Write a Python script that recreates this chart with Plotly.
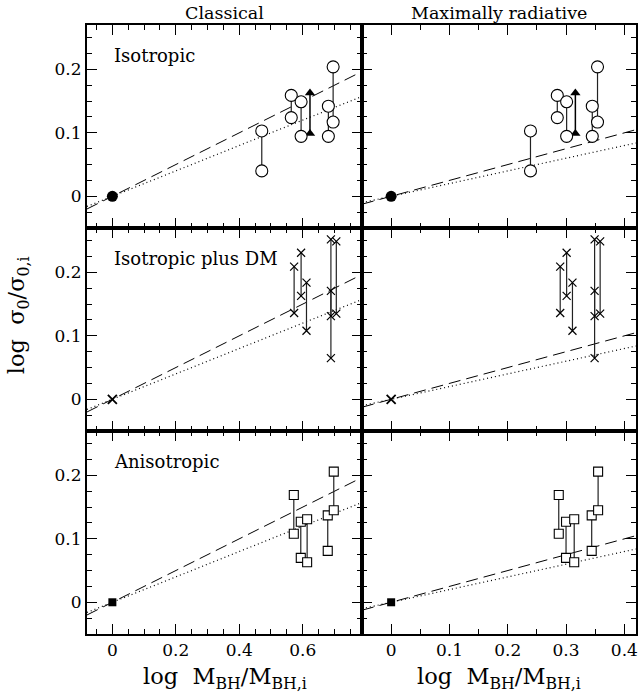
import plotly.graph_objects as go
from plotly.subplots import make_subplots

# ---------------- data ----------------
col_titles = ["Classical", "Maximally radiative"]
row_labels = ["Isotropic", "Isotropic plus DM", "Anisotropic"]

slope_dashed = 0.25
slope_dotted = 0.20

x_range_cl = [-0.08, 0.787]
x_range_rad = [-0.05, 0.42]
y_range = [-0.05, 0.27]

# Isotropic (circles)
iso_x_cl = [0.471, 0.564, 0.595, 0.681, 0.696]
iso_x_rad = [0.239, 0.285, 0.301, 0.345, 0.354]
iso_hi = [0.103, 0.159, 0.149, 0.142, 0.204]
iso_lo = [0.040, 0.124, 0.0945, 0.0945, 0.117]
arrow_x_cl = 0.623
arrow_x_rad = 0.316
arrow_lo = 0.099
arrow_hi = 0.163

# Isotropic plus DM (crosses)
dm_x_cl = [0.573, 0.595, 0.612, 0.689, 0.689, 0.706]
dm_x_rad = [0.290, 0.301, 0.311, 0.349, 0.349, 0.3585]
dm_hi = [0.209, 0.231, 0.184, 0.252, 0.171, 0.249]
dm_lo = [0.136, 0.163, 0.108, 0.131, 0.065, 0.135]

# Anisotropic (squares)
an_x_cl = [0.572, 0.594, 0.614, 0.679, 0.698]
an_x_rad = [0.2875, 0.300, 0.314, 0.344, 0.355]
an_hi = [0.169, 0.127, 0.131, 0.137, 0.206]
an_lo = [0.108, 0.070, 0.063, 0.081, 0.145]

origin_x = [0.0]
origin_y = [0.0]

FONT = "DejaVu Serif"

fig = make_subplots(rows=3, cols=2, horizontal_spacing=0, vertical_spacing=0,
                    column_widths=[276, 275])


def seg(xs, his, los):
    X, Y = [], []
    for x, h, l in zip(xs, his, los):
        X += [x, x, None]
        Y += [l, h, None]
    return X, Y


def add_panel(row, col, xs, his, los, sym_open, size, sym_origin, osize, xr, arrow=None):
    # model lines
    lx = [xr[0], xr[1]]
    fig.add_trace(go.Scatter(x=lx, y=[slope_dashed * v for v in lx], mode="lines",
                             line=dict(color="black", width=1, dash="12px,6px"),
                             hoverinfo="skip", showlegend=False), row=row, col=col)
    fig.add_trace(go.Scatter(x=lx, y=[slope_dotted * v for v in lx], mode="lines",
                             line=dict(color="black", width=1.2, dash="1px,3px"),
                             hoverinfo="skip", showlegend=False), row=row, col=col)
    # vertical connectors
    X, Y = seg(xs, his, los)
    fig.add_trace(go.Scatter(x=X, y=Y, mode="lines",
                             line=dict(color="#222222", width=1.2),
                             hoverinfo="skip", showlegend=False), row=row, col=col)
    if arrow is not None:
        ax, alo, ahi = arrow
        fig.add_trace(go.Scatter(x=[ax, ax], y=[alo, ahi], mode="lines+markers",
                                 line=dict(color="black", width=1.5),
                                 marker=dict(symbol="triangle-up", size=9, color="black"),
                                 showlegend=False), row=row, col=col)
    # markers
    fig.add_trace(go.Scatter(x=list(xs) + list(xs), y=list(his) + list(los), mode="markers",
                             marker=sym_open(size), showlegend=False), row=row, col=col)
    fig.add_trace(go.Scatter(x=origin_x, y=origin_y, mode="markers",
                             marker=sym_origin(osize), showlegend=False), row=row, col=col)


circ_open = lambda s: dict(symbol="circle", size=s, color="white", line=dict(color="black", width=1.1))
circ_fill = lambda s: dict(symbol="circle", size=s, color="black")
cross = lambda s: dict(symbol="x-thin-open", size=s, color="black", line=dict(color="black", width=1.2))
cross_b = lambda s: dict(symbol="x-thin-open", size=s, color="black", line=dict(color="black", width=1.8))
sq_open = lambda s: dict(symbol="square", size=s, color="white", line=dict(color="black", width=1.1))
sq_fill = lambda s: dict(symbol="square", size=s, color="black")

for col, xr in [(1, x_range_cl), (2, x_range_rad)]:
    cl = col == 1
    add_panel(1, col, iso_x_cl if cl else iso_x_rad, iso_hi, iso_lo, circ_open, 12,
              circ_fill, 11, xr, arrow=(arrow_x_cl if cl else arrow_x_rad, arrow_lo, arrow_hi))
    add_panel(2, col, dm_x_cl if cl else dm_x_rad, dm_hi, dm_lo, cross, 8, cross_b, 9, xr)
    add_panel(3, col, an_x_cl if cl else an_x_rad, an_hi, an_lo, sq_open, 9, sq_fill, 8, xr)

axis_common = dict(showline=True, linecolor="black", linewidth=2, mirror="allticks",
                   ticks="inside", ticklen=10, tickwidth=1.2, tickcolor="black",
                   showgrid=False, zeroline=False,
                   tickfont=dict(family=FONT, size=17, color="black"))

for row in range(1, 4):
    for col in range(1, 3):
        xr = x_range_cl if col == 1 else x_range_rad
        dt = 0.2 if col == 1 else 0.1
        fig.update_xaxes(range=xr, tick0=0, dtick=dt, showticklabels=(row == 3),
                         minor=dict(dtick=0.05, tick0=0, ticks="inside", ticklen=5,
                                    tickwidth=1.2, tickcolor="black"),
                         **axis_common, row=row, col=col)
        fig.update_yaxes(range=y_range, tick0=0, dtick=0.1, showticklabels=(col == 1),
                         minor=dict(dtick=0.025, tick0=0, ticks="inside", ticklen=5,
                                    tickwidth=1.2, tickcolor="black"),
                         **axis_common, row=row, col=col)

# panel labels
for i, lab in enumerate(row_labels):
    fig.add_annotation(text=lab, x=0, y=0.222, xref=f"x{2*i+1 if i else ''}",
                       yref=f"y{2*i+1 if i else ''}", xanchor="left", yanchor="middle",
                       showarrow=False, font=dict(family=FONT, size=18, color="black"))

# column titles
for cx, t in zip([0.2505, 0.7505], col_titles):
    fig.add_annotation(text=t, x=cx, y=1.0197, xref="paper", yref="paper",
                       xanchor="center", yanchor="middle", showarrow=False,
                       font=dict(family=FONT, size=17.5, color="black"))

# axis titles
for cx in [0.2505, 0.7505]:
    fig.add_annotation(text="log  M<sub>BH</sub>/M<sub>BH,i</sub>", x=cx, y=-0.072,
                       xref="paper", yref="paper", xanchor="center", yanchor="middle",
                       showarrow=False, font=dict(family=FONT, size=22.5, color="black"))

fig.add_annotation(text="log  σ<sub>0</sub>/σ<sub>0,i</sub>", x=-0.125, y=0.524,
                   xref="paper", yref="paper", xanchor="center", yanchor="middle",
                   textangle=-90, showarrow=False,
                   font=dict(family=FONT, size=22.5, color="black"))

fig.update_layout(width=641, height=700, margin=dict(l=87, r=3, t=25, b=66),
                  plot_bgcolor="white", paper_bgcolor="white", showlegend=False)

fig.write_html("out.html")
